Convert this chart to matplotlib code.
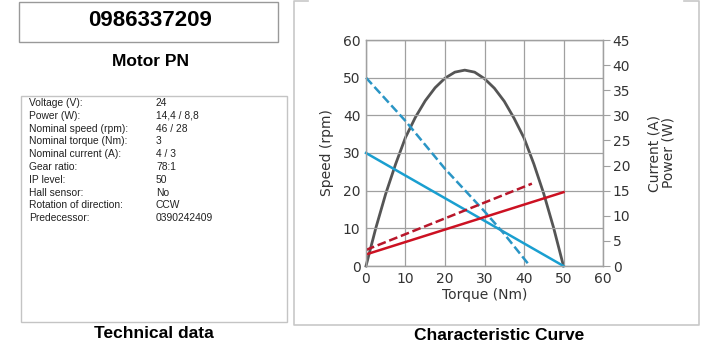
import matplotlib
matplotlib.use("Agg")
import matplotlib.pyplot as plt
from matplotlib.patches import Rectangle
from matplotlib.lines import Line2D

part_no = "0986337209"
spec_labels = ["Voltage (V):", "Power (W):", "Nominal speed (rpm):", "Nominal torque (Nm):",
               "Nominal current (A):", "Gear ratio:", "IP level:", "Hall sensor:",
               "Rotation of direction:", "Predecessor:"]
spec_values = ["24", "14,4 / 8,8", "46 / 28", "3", "4 / 3", "78:1", "50", "No", "CCW", "0390242409"]

# speed curves (left axis, rpm)
speed_t = [0, 50]
speed = [30, 0]
speed2_t = [0, 10, 20, 30, 35, 41.5]
speed2 = [50, 38.5, 25.8, 14.5, 8.5, 0]
# current curves (right axis, A)
cur_t = [0, 50]
cur = [2.3, 14.7]
cur2_t = [0, 42]
cur2 = [3.2, 16.4]
# power curve (right axis, W)
pow_t = [0, 2.5, 5, 7.5, 10, 12.5, 15, 17.5, 20, 22.5, 25,
         27.5, 30, 32.5, 35, 37.5, 40, 42.5, 45, 47.5, 50]
power = [0, 7.6, 14.4, 20.3, 25.6, 29.6, 32.9, 35.5, 37.4, 38.6, 39.0,
         38.6, 37.3, 35.4, 32.8, 29.4, 25.5, 20.3, 14.4, 7.6, 0]

W, H = 701, 352
fig = plt.figure(figsize=(W / 100, H / 100), dpi=100)
fig.patch.set_facecolor("white")


def px(x, y):
    return x / W, 1 - y / H


def box(x0, y0, x1, y1, color="#b0b0b0"):
    fig.patches.append(Rectangle(px(x0, y1), (x1 - x0) / W, (y1 - y0) / H,
                                 transform=fig.transFigure, fill=False,
                                 edgecolor=color, linewidth=1))


def seg(pts, color="#c8c8c8"):
    xs = [p[0] / W for p in pts]
    ys = [1 - p[1] / H for p in pts]
    fig.lines.append(Line2D(xs, ys, transform=fig.transFigure, color=color, linewidth=1.2))


arial = "Liberation Sans"

# left panel
box(19, 2, 278, 42, "#999999")
fig.text(*px(150, 20), part_no, ha="center", va="center", fontsize=16,
         fontweight="bold", family=arial)
fig.text(*px(150, 61), "Motor PN", ha="center", va="center", fontsize=12.5,
         fontweight="bold", family=arial)
box(21, 96, 287, 322, "#c4c4c4")
for i, (lab, val) in enumerate(zip(spec_labels, spec_values)):
    y = 103 + i * 12.8
    fig.text(*px(29, y), lab, ha="left", va="center", fontsize=7.4, family=arial, color="#222222")
    fig.text(*px(156, y), val, ha="left", va="center", fontsize=7.4, family=arial, color="#222222")
fig.text(*px(154, 334), "Technical data", ha="center", va="center", fontsize=12.5,
         fontweight="bold", family=arial)

# right panel frame: sides, bottom and short top corners
seg([(308, 1), (294, 1), (294, 325), (699, 325), (699, 1), (684, 1)])
fig.text(*px(499, 335), "Characteristic Curve", ha="center", va="center", fontsize=12.5,
         fontweight="bold", family=arial)

ax = fig.add_axes([366 / W, 1 - 266 / H, (603 - 366) / W, (266 - 40) / H])
ax2 = ax.twinx()
ax.set_zorder(ax2.get_zorder() + 1)
ax.patch.set_visible(False)

ax.set_xlim(0, 60)
ax.set_ylim(0, 60)
ax2.set_ylim(0, 45)
ax.set_xticks(range(0, 61, 10))
ax.set_yticks(range(0, 61, 10))
ax2.set_yticks(range(0, 46, 5))
ax.grid(True, color="#a0a0a0", linewidth=0.9)
ax.set_axisbelow(True)

for a in (ax, ax2):
    for s in a.spines.values():
        s.set_color("#a0a0a0")
        s.set_linewidth(0.9)
ax.tick_params(axis="both", length=0, labelsize=10, labelcolor="#333333", pad=4)
ax2.tick_params(axis="y", length=5, color="#a0a0a0", labelsize=10, labelcolor="#333333", pad=2)

ax.set_xlabel("Torque (Nm)", fontsize=10, color="#333333", labelpad=2)
ax.set_ylabel("Speed (rpm)", fontsize=10, color="#333333", labelpad=6)
ax2.set_ylabel("Current (A)\nPower (W)", fontsize=10, color="#333333", labelpad=12,
               rotation=90, linespacing=1.0)

ax2.plot(pow_t, power, color="#555555", linewidth=2, clip_on=False)
ax.plot(speed_t, speed, color="#1a9fd0", linewidth=1.8, clip_on=False)
ax.plot(speed2_t, speed2, color="#2a95c5", linewidth=1.8, linestyle=(0, (3.5, 1.5)), clip_on=False)
ax.plot(cur_t, [c / 0.75 for c in cur], color="#cc1122", linewidth=1.8)
ax.plot(cur2_t, [c / 0.75 for c in cur2], color="#b8162a", linewidth=1.8,
        linestyle=(0, (3.5, 1.5)))

fig.savefig("out.png", dpi=100)
